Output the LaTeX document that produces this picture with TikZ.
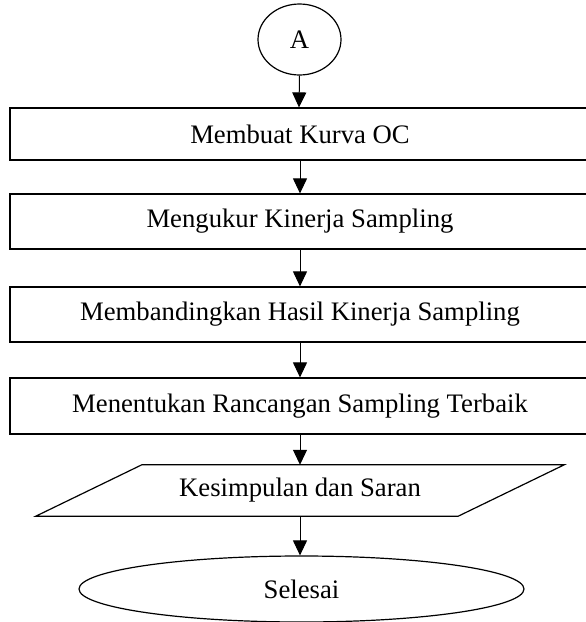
\documentclass[tikz,border=0pt]{standalone}
\usepackage{fontspec}
\setmainfont{Liberation Serif}
\usetikzlibrary{shapes.geometric,arrows.meta,calc}
\begin{document}
\begin{tikzpicture}[x=1pt,y=-1pt,
  every node/.style={font=\fontsize{26.7}{30}\selectfont, inner sep=0pt},
  stepbox/.style={draw, line width=1.2pt, rectangle, minimum width=580pt},
  conn/.style={draw, line width=1pt, -{Triangle[length=15pt,width=14pt]}},
  shp/.style={draw, line width=1.2pt}]
\clip (0,0) rectangle (586,622);
\fill[white] (0,0) rectangle (586,622);
\node[shp, ellipse, minimum width=83pt, minimum height=71pt] (a) at (299.5,39.5) {A};
\node[stepbox, minimum height=52pt] (b1) at (300,134) {Membuat Kurva OC};
\node[stepbox, minimum height=55pt] (b2) at (300,221.5) {Mengukur Kinerja Sampling};
\node[stepbox, minimum height=55pt] (b3) at (300,314.5) {Membandingkan Hasil Kinerja Sampling};
\node[stepbox, minimum height=56pt] (b4) at (300,406) {Menentukan Rancangan Sampling Terbaik};
\node[minimum width=422pt, minimum height=51pt] (p) at (300,490.5) {Kesimpulan dan Saran};
\draw[shp] ($(p.north west)+(53,0)$) -- ($(p.north east)+(53,0)$) -- ($(p.south east)+(-53,0)$) -- ($(p.south west)+(-53,0)$) -- cycle;
\node[shp, ellipse, minimum width=445pt, minimum height=66pt] (e) at (301.5,589) {Selesai};
\coordinate (ab) at (299,107.4);
\draw[conn] (a.south) -- (ab);
\draw[conn] (b1.south -| 300,0) -- (b2.north -| 300,0);
\draw[conn] (b2.south -| 300,0) -- (b3.north -| 300,0);
\draw[conn] (b3.south -| 300,0) -- (b4.north -| 300,0);
\draw[conn] (b4.south -| 300,0) -- (p.north -| 300,0);
\draw[conn] (p.south -| 300,0) -- (e.north -| 300,0);
\end{tikzpicture}
\end{document}
